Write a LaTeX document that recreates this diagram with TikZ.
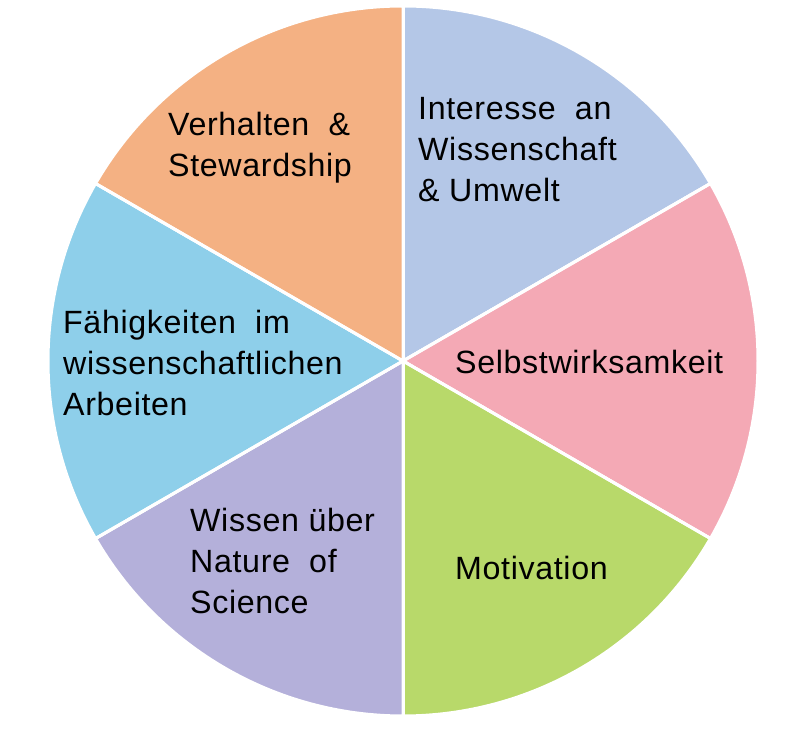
\documentclass[tikz,border=0pt]{standalone}
\usepackage{fontspec}
\setmainfont{Liberation Sans}[LetterSpace=2]
\definecolor{cOrange}{HTML}{F4B183}
\definecolor{cBlue}{HTML}{B4C7E7}
\definecolor{cPink}{HTML}{F4A9B5}
\definecolor{cGreen}{HTML}{B8D96A}
\definecolor{cPurple}{HTML}{B4B0DA}
\definecolor{cLBlue}{HTML}{8ECFEA}
\begin{document}
\begin{tikzpicture}[x=1pt,y=1pt,
  slice/.style={draw=white,line width=3pt,line join=round},
  lbl/.style={anchor=west,align=left,font=\fontsize{32.2}{41}\selectfont,inner sep=0pt,text=black}]
\useasboundingbox (0,0) rectangle (803,730);
\coordinate (c) at (403,369);
\def\R{355}
\fill[cBlue,slice] (c) -- ++(90:\R) arc[start angle=90,end angle=30,radius=\R] -- cycle;
\fill[cPink,slice] (c) -- ++(30:\R) arc[start angle=30,end angle=-30,radius=\R] -- cycle;
\fill[cGreen,slice] (c) -- ++(-30:\R) arc[start angle=-30,end angle=-90,radius=\R] -- cycle;
\fill[cPurple,slice] (c) -- ++(-90:\R) arc[start angle=-90,end angle=-150,radius=\R] -- cycle;
\fill[cLBlue,slice] (c) -- ++(210:\R) arc[start angle=210,end angle=150,radius=\R] -- cycle;
\fill[cOrange,slice] (c) -- ++(150:\R) arc[start angle=150,end angle=90,radius=\R] -- cycle;
\foreach \a in {90,30,-30,-90,-150,150}{\draw[white,line width=3pt] (c) -- ++(\a:\R);}
\node[lbl] (t1) at (418,580) {Interesse\ \ an\\Wissenschaft\\\& Umwelt};
\node[lbl] (t2) at (455,368) {Selbstwirksamkeit};
\node[lbl] (t3) at (455,162) {Motivation};
\node[lbl] (t4) at (190,169) {Wissen über\\Nature\ \ of\\Science};
\node[lbl] (t5) at (63,367) {Fähigkeiten\ \ im\\wissenschaftlichen\\Arbeiten};
\node[lbl] (t6) at (168,582) {Verhalten\ \ \&\\Stewardship};
\end{tikzpicture}
\end{document}
